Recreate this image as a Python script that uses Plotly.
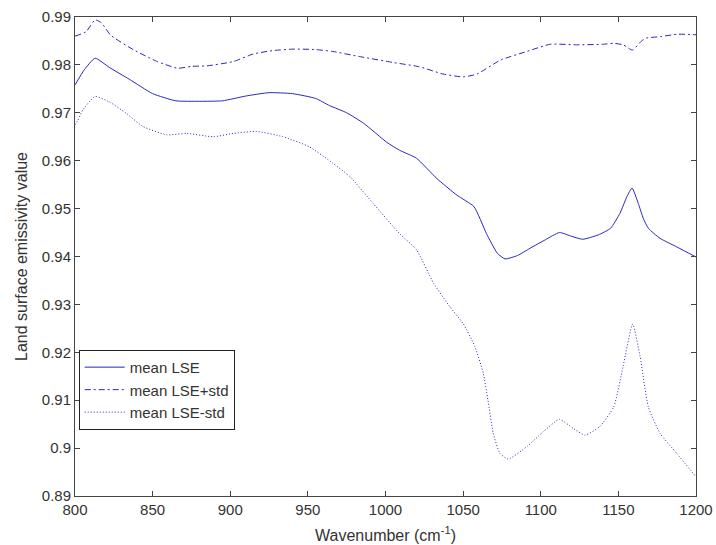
import plotly.graph_objects as go

mean_x = [800, 806, 813, 822, 835, 850, 865, 880, 895, 910, 925, 940, 955, 964, 975, 986,
          1001, 1009, 1020, 1033, 1046, 1057, 1065, 1072, 1077, 1085, 1093, 1103, 1112, 1120,
          1127, 1137, 1145, 1151, 1155.5, 1158.8, 1162.8, 1166, 1169.3, 1176.8, 1187.6, 1200]
mean_y = [0.9758, 0.9790, 0.9814, 0.9795, 0.9770, 0.9740, 0.9725, 0.9724, 0.9725, 0.9735, 0.9742,
          0.9740, 0.9730, 0.9715, 0.9700, 0.9678, 0.9638, 0.9622, 0.9605, 0.9563, 0.9528, 0.9504,
          0.9448, 0.9407, 0.9395, 0.9402, 0.9417, 0.9435, 0.9450, 0.9442, 0.9436, 0.9445, 0.9459,
          0.9490, 0.9525, 0.9543, 0.9511, 0.9480, 0.9459, 0.9438, 0.9420, 0.9399]

upper_x = [800, 807, 813, 817, 823, 838, 853, 866, 875, 885, 902, 915, 928, 941, 955, 966, 984,
           1005, 1022, 1037, 1050, 1059, 1074, 1091, 1106, 1123, 1140, 1147, 1153, 1159, 1165,
           1168, 1177, 1188, 1200]
upper_y = [0.9860, 0.9869, 0.9894, 0.9888, 0.9862, 0.9831, 0.9807, 0.9793, 0.9797, 0.9798, 0.9807,
           0.9823, 0.9830, 0.9833, 0.9832, 0.9828, 0.9817, 0.9805, 0.9796, 0.9781, 0.9775, 0.9781,
           0.9810, 0.9828, 0.9843, 0.9842, 0.9843, 0.9845, 0.9842, 0.9831, 0.9850, 0.9856, 0.9859,
           0.9864, 0.9863]

lower_x = [800, 802, 805, 813, 822, 833, 844, 859, 872, 889, 902, 917, 934, 951, 966, 977, 992,
           1009, 1020, 1031, 1041.5, 1050, 1057.6, 1063, 1066, 1069.4, 1073.7, 1079, 1091, 1101.6,
           1112, 1121, 1128.5, 1138, 1147, 1153, 1159.2, 1164, 1169.3, 1176.8, 1187.6, 1200]
lower_y = [0.9675, 0.9685, 0.9706, 0.9734, 0.9723, 0.9699, 0.9671, 0.9654, 0.9657, 0.9650, 0.9657,
           0.9661, 0.9650, 0.9629, 0.9595, 0.9567, 0.9511, 0.9448, 0.9414, 0.9344, 0.9295, 0.9260,
           0.9212, 0.9156, 0.9100, 0.9031, 0.8989, 0.8977, 0.9003, 0.9034, 0.9060, 0.9041, 0.9027,
           0.9045, 0.9086, 0.9170, 0.9259, 0.9191, 0.9086, 0.9031, 0.8989, 0.8940]

x_ticks = [800, 850, 900, 950, 1000, 1050, 1100, 1150, 1200]
y_ticks = [0.89, 0.90, 0.91, 0.92, 0.93, 0.94, 0.95, 0.96, 0.97, 0.98, 0.99]
y_tick_labels = ["0.89", "0.9", "0.91", "0.92", "0.93", "0.94", "0.95", "0.96", "0.97", "0.98", "0.99"]

line_color = "rgb(40,40,190)"
tick_font = dict(family="Liberation Sans, Arial, sans-serif", size=15, color="#333")
title_font = dict(family="Liberation Sans, Arial, sans-serif", size=16, color="#333")

fig = go.Figure()
fig.add_trace(go.Scatter(x=mean_x, y=mean_y, mode="lines", name="mean LSE",
                         line=dict(color=line_color, width=1, shape="spline", smoothing=0.5)))
fig.add_trace(go.Scatter(x=upper_x, y=upper_y, mode="lines", name="mean LSE+std",
                         line=dict(color=line_color, width=1, dash="6px,3px,2px,3px",
                                   shape="spline", smoothing=0.5)))
fig.add_trace(go.Scatter(x=lower_x, y=lower_y, mode="lines", name="mean LSE-std",
                         line=dict(color=line_color, width=1, dash="1px,2px",
                                   shape="spline", smoothing=0.5)))

axis_common = dict(showline=True, linecolor="#444", linewidth=1, mirror="ticks",
                   ticks="inside", ticklen=5, tickcolor="#444", showgrid=False, zeroline=False,
                   tickfont=tick_font, automargin=False)

fig.update_xaxes(range=[800, 1200], tickvals=x_ticks,
                 title=dict(text="Wavenumber (cm<sup>-1</sup>)", font=title_font, standoff=12),
                 **axis_common)
fig.update_yaxes(range=[0.89, 0.99], tickvals=y_ticks, ticktext=y_tick_labels,
                 title=dict(text="Land surface emissivity value", font=title_font, standoff=10),
                 **axis_common)

fig.update_layout(
    width=716, height=545,
    margin=dict(l=75, r=20, t=17, b=49),
    paper_bgcolor="white", plot_bgcolor="white",
    font=tick_font,
    showlegend=True,
    legend=dict(x=0.006, y=0.305, xanchor="left", yanchor="top",
                bgcolor="white", bordercolor="#222", borderwidth=1,
                font=dict(family="Liberation Sans, Arial, sans-serif", size=15, color="#333"),
                tracegroupgap=0, itemwidth=40),
)

fig.write_html("out.html")
